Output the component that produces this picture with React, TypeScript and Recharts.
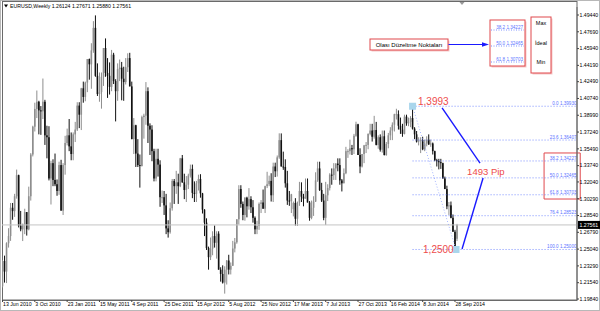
import React from 'react';
import {
  ComposedChart,
  Bar,
  XAxis,
  YAxis,
  ReferenceLine,
  ReferenceDot,
  ReferenceArea,
  Customized,
} from 'recharts';

// Weekly EURUSD candles, week 0 = 13 Jun 2010
const opens = [
  1.2115, 1.2380, 1.2270, 1.2565, 1.2640, 1.2935, 1.2900, 1.3055, 1.3275, 1.2750,
  1.2710, 1.2760, 1.2890, 1.2710, 1.3055, 1.3490, 1.3780, 1.3965, 1.4040, 1.3950,
  1.3940, 1.4040, 1.3690, 1.3670, 1.3240, 1.3400, 1.3225, 1.3180, 1.3110, 1.3380,
  1.2905, 1.3380, 1.3610, 1.3690, 1.3575, 1.3495, 1.3700, 1.3750, 1.4000, 1.3905,
  1.4180, 1.4090, 1.4240, 1.4485, 1.4430, 1.4575, 1.4810, 1.4310, 1.4120, 1.4140,
  1.4300, 1.4600, 1.4340, 1.4310, 1.4195, 1.4530, 1.4255, 1.4150, 1.4380, 1.4395,
  1.4280, 1.4245, 1.4400, 1.4495, 1.4200, 1.3650, 1.3795, 1.3500, 1.3380, 1.3370,
  1.3880, 1.3895, 1.4150, 1.3790, 1.3750, 1.3525, 1.3240, 1.3445, 1.3385, 1.3045,
  1.3045, 1.2960, 1.2720, 1.2680, 1.2930, 1.3215, 1.3160, 1.3200, 1.3160, 1.3450,
  1.3200, 1.3120, 1.3175, 1.3270, 1.3340, 1.3090, 1.3080, 1.3190, 1.3235, 1.3085,
  1.2915, 1.2780, 1.2515, 1.2420, 1.2510, 1.2640, 1.2570, 1.2665, 1.2290, 1.2245,
  1.2155, 1.2290, 1.2385, 1.2290, 1.2330, 1.2510, 1.2575, 1.2815, 1.3130, 1.2975,
  1.2860, 1.3040, 1.2950, 1.3025, 1.2940, 1.2830, 1.2710, 1.2745, 1.2975, 1.2990,
  1.2925, 1.3160, 1.3180, 1.3215, 1.3065, 1.3365, 1.3315, 1.3460, 1.3640, 1.3365,
  1.3360, 1.3190, 1.3010, 1.3005, 1.2920, 1.2985, 1.2820, 1.2990, 1.3110, 1.3050,
  1.3030, 1.3110, 1.2990, 1.2830, 1.2935, 1.3000, 1.3220, 1.3345, 1.3120, 1.3010,
  1.2830, 1.3065, 1.3140, 1.3280, 1.3275, 1.3345, 1.3395, 1.3380, 1.3220, 1.3190,
  1.3295, 1.3525, 1.3525, 1.3555, 1.3545, 1.3685, 1.3805, 1.3485, 1.3365, 1.3495,
  1.3585, 1.3590, 1.3705, 1.3740, 1.3675, 1.3745, 1.3590, 1.3670, 1.3540, 1.3680,
  1.3485, 1.3600, 1.3690, 1.3740, 1.3800, 1.3910, 1.3910, 1.3790, 1.3750, 1.3705,
  1.3885, 1.3815, 1.3830, 1.3870, 1.3760, 1.3700, 1.3625, 1.3635, 1.3640, 1.3545,
  1.3605, 1.3645, 1.3595, 1.3605, 1.3525, 1.3430, 1.3420, 1.3410, 1.3400, 1.3240,
  1.3130, 1.2950, 1.2960, 1.2830, 1.2685, 1.2612,
];
const highs = [
  1.2390, 1.2436, 1.2575, 1.2722, 1.2985, 1.2985, 1.3080, 1.3333, 1.3280, 1.2902,
  1.2770, 1.2925, 1.2890, 1.3155, 1.3505, 1.3790, 1.4030, 1.4157, 1.4050, 1.3995,
  1.4282, 1.4060, 1.3790, 1.3785, 1.3425, 1.3440, 1.3500, 1.3230, 1.3415, 1.3435,
  1.3400, 1.3685, 1.3760, 1.3860, 1.3720, 1.3720, 1.3830, 1.4035, 1.4035, 1.4185,
  1.4250, 1.4250, 1.4485, 1.4490, 1.4650, 1.4880, 1.4940, 1.4440, 1.4345, 1.4345,
  1.4600, 1.4700, 1.4495, 1.4450, 1.4580, 1.4550, 1.4275, 1.4440, 1.4480, 1.4455,
  1.4405, 1.4495, 1.4545, 1.4550, 1.4250, 1.3870, 1.3800, 1.3650, 1.3490, 1.3895,
  1.3915, 1.4245, 1.4190, 1.3815, 1.3795, 1.3550, 1.3550, 1.3550, 1.3430, 1.3115,
  1.3110, 1.3080, 1.2805, 1.2990, 1.3235, 1.3235, 1.3320, 1.3290, 1.3455, 1.3485,
  1.3290, 1.3265, 1.3290, 1.3385, 1.3385, 1.3210, 1.3215, 1.3280, 1.3285, 1.3090,
  1.2920, 1.2825, 1.2530, 1.2625, 1.2690, 1.2750, 1.2690, 1.2690, 1.2315, 1.2335,
  1.2325, 1.2390, 1.2445, 1.2365, 1.2590, 1.2620, 1.2815, 1.3170, 1.3170, 1.3000,
  1.3045, 1.3050, 1.3140, 1.3055, 1.3015, 1.2845, 1.2800, 1.2990, 1.3015, 1.3125,
  1.3165, 1.3310, 1.3270, 1.3295, 1.3405, 1.3405, 1.3480, 1.3711, 1.3710, 1.3520,
  1.3440, 1.3320, 1.3110, 1.3080, 1.3000, 1.3035, 1.3000, 1.3205, 1.3200, 1.3080,
  1.3240, 1.3240, 1.3005, 1.3010, 1.3055, 1.3305, 1.3415, 1.3415, 1.3195, 1.3080,
  1.3205, 1.3180, 1.3295, 1.3345, 1.3400, 1.3400, 1.3450, 1.3450, 1.3235, 1.3345,
  1.3570, 1.3545, 1.3645, 1.3590, 1.3705, 1.3832, 1.3810, 1.3555, 1.3495, 1.3590,
  1.3620, 1.3710, 1.3810, 1.3810, 1.3893, 1.3830, 1.3690, 1.3700, 1.3740, 1.3740,
  1.3620, 1.3715, 1.3775, 1.3825, 1.3915, 1.3967, 1.3950, 1.3875, 1.3810, 1.3905,
  1.3905, 1.3875, 1.3890, 1.3993, 1.3775, 1.3735, 1.3670, 1.3670, 1.3675, 1.3645,
  1.3680, 1.3700, 1.3645, 1.3615, 1.3530, 1.3445, 1.3445, 1.3445, 1.3405, 1.3260,
  1.3165, 1.2995, 1.3000, 1.2865, 1.2705, 1.2767,
];
const lows = [
  1.2105, 1.2155, 1.2150, 1.2520, 1.2590, 1.2810, 1.2840, 1.3030, 1.2730, 1.2690,
  1.2588, 1.2660, 1.2645, 1.2700, 1.3010, 1.3470, 1.3730, 1.3870, 1.3700, 1.3695,
  1.3860, 1.3590, 1.3450, 1.3220, 1.2969, 1.3160, 1.3160, 1.3060, 1.3070, 1.2905,
  1.2860, 1.3280, 1.3585, 1.3525, 1.3430, 1.3430, 1.3620, 1.3735, 1.3765, 1.3745,
  1.4030, 1.4045, 1.4140, 1.4270, 1.4175, 1.4550, 1.4300, 1.4100, 1.4040, 1.3968,
  1.4205, 1.4300, 1.4080, 1.4115, 1.4150, 1.4225, 1.3835, 1.4050, 1.4255, 1.4055,
  1.4050, 1.4220, 1.4350, 1.4200, 1.3650, 1.3495, 1.3360, 1.3360, 1.3145, 1.3365,
  1.3655, 1.3800, 1.3610, 1.3485, 1.3420, 1.3210, 1.3210, 1.3260, 1.2945, 1.2985,
  1.2860, 1.2660, 1.2624, 1.2665, 1.2905, 1.2975, 1.3080, 1.2975, 1.3150, 1.3195,
  1.3025, 1.2995, 1.3130, 1.3250, 1.3035, 1.2995, 1.2995, 1.3115, 1.3040, 1.2875,
  1.2640, 1.2495, 1.2290, 1.2390, 1.2440, 1.2520, 1.2405, 1.2290, 1.2165, 1.2145,
  1.2040, 1.2135, 1.2240, 1.2240, 1.2330, 1.2470, 1.2560, 1.2760, 1.2935, 1.2805,
  1.2800, 1.2835, 1.2915, 1.2880, 1.2780, 1.2660, 1.2660, 1.2705, 1.2880, 1.2925,
  1.2880, 1.3140, 1.3160, 1.3000, 1.2995, 1.3255, 1.3260, 1.3445, 1.3365, 1.3330,
  1.3145, 1.2965, 1.2955, 1.2880, 1.2845, 1.2750, 1.2745, 1.2955, 1.2995, 1.2950,
  1.3030, 1.2990, 1.2800, 1.2815, 1.2850, 1.2995, 1.3205, 1.3110, 1.2995, 1.2805,
  1.2755, 1.3005, 1.3115, 1.3175, 1.3225, 1.3225, 1.3315, 1.3175, 1.3105, 1.3190,
  1.3285, 1.3455, 1.3490, 1.3485, 1.3495, 1.3675, 1.3485, 1.3295, 1.3355, 1.3400,
  1.3505, 1.3545, 1.3690, 1.3625, 1.3655, 1.3585, 1.3550, 1.3520, 1.3510, 1.3480,
  1.3477, 1.3555, 1.3640, 1.3640, 1.3730, 1.3855, 1.3750, 1.3705, 1.3675, 1.3700,
  1.3790, 1.3785, 1.3775, 1.3750, 1.3650, 1.3615, 1.3585, 1.3505, 1.3535, 1.3525,
  1.3575, 1.3590, 1.3570, 1.3490, 1.3420, 1.3365, 1.3335, 1.3340, 1.3240, 1.3130,
  1.2920, 1.2860, 1.2825, 1.2685, 1.2500, 1.2588,
];
const closes = [
  1.2380, 1.2270, 1.2565, 1.2640, 1.2935, 1.2900, 1.3055, 1.3275, 1.2750, 1.2710,
  1.2760, 1.2890, 1.2710, 1.3055, 1.3490, 1.3780, 1.3965, 1.4040, 1.3950, 1.3940,
  1.4040, 1.3690, 1.3670, 1.3240, 1.3400, 1.3225, 1.3180, 1.3110, 1.3380, 1.2905,
  1.3380, 1.3610, 1.3690, 1.3575, 1.3495, 1.3700, 1.3750, 1.4000, 1.3905, 1.4180,
  1.4090, 1.4240, 1.4485, 1.4430, 1.4575, 1.4810, 1.4310, 1.4120, 1.4140, 1.4300,
  1.4600, 1.4340, 1.4310, 1.4195, 1.4530, 1.4255, 1.4150, 1.4380, 1.4395, 1.4280,
  1.4245, 1.4400, 1.4495, 1.4200, 1.3650, 1.3795, 1.3500, 1.3380, 1.3370, 1.3880,
  1.3895, 1.4150, 1.3790, 1.3750, 1.3525, 1.3240, 1.3445, 1.3385, 1.3045, 1.3045,
  1.2960, 1.2720, 1.2680, 1.2930, 1.3215, 1.3160, 1.3200, 1.3160, 1.3450, 1.3200,
  1.3120, 1.3175, 1.3270, 1.3340, 1.3090, 1.3080, 1.3190, 1.3235, 1.3085, 1.2915,
  1.2780, 1.2515, 1.2420, 1.2510, 1.2640, 1.2570, 1.2665, 1.2290, 1.2245, 1.2155,
  1.2290, 1.2385, 1.2290, 1.2330, 1.2510, 1.2575, 1.2815, 1.3130, 1.2975, 1.2860,
  1.3040, 1.2950, 1.3025, 1.2940, 1.2830, 1.2710, 1.2745, 1.2975, 1.2990, 1.2925,
  1.3160, 1.3180, 1.3215, 1.3065, 1.3365, 1.3315, 1.3460, 1.3640, 1.3365, 1.3360,
  1.3190, 1.3010, 1.3005, 1.3075, 1.2985, 1.2820, 1.2990, 1.3110, 1.3050, 1.3030,
  1.3110, 1.2990, 1.2830, 1.2935, 1.3000, 1.3220, 1.3345, 1.3120, 1.3010, 1.2830,
  1.3065, 1.3140, 1.3280, 1.3275, 1.3345, 1.3395, 1.3380, 1.3220, 1.3190, 1.3295,
  1.3525, 1.3525, 1.3555, 1.3545, 1.3685, 1.3805, 1.3485, 1.3365, 1.3495, 1.3585,
  1.3590, 1.3705, 1.3740, 1.3675, 1.3745, 1.3590, 1.3670, 1.3540, 1.3680, 1.3485,
  1.3600, 1.3690, 1.3740, 1.3800, 1.3910, 1.3910, 1.3790, 1.3750, 1.3705, 1.3885,
  1.3815, 1.3830, 1.3870, 1.3760, 1.3700, 1.3625, 1.3635, 1.3640, 1.3545, 1.3605,
  1.3645, 1.3595, 1.3605, 1.3525, 1.3430, 1.3420, 1.3410, 1.3400, 1.3240, 1.3130,
  1.2950, 1.2960, 1.2830, 1.2685, 1.2520, 1.2756,
];

const xTickIndex = [0, 16, 32, 48, 64, 80, 96, 112, 128, 144, 160, 176, 192, 208, 224];
const xTickLabels = [
  '13 Jun 2010', '3 Oct 2010', '23 Jan 2011', '15 May 2011', '4 Sep 2011',
  '25 Dec 2011', '15 Apr 2012', '5 Aug 2012', '25 Nov 2012', '17 Mar 2013',
  '7 Jul 2013', '27 Oct 2013', '16 Feb 2014', '8 Jun 2014', '28 Sep 2014',
];
const priceTicks = [
  1.4944, 1.4769, 1.4594, 1.4419, 1.4249, 1.4074, 1.3899, 1.3724, 1.3549,
  1.3374, 1.3204, 1.3029, 1.2854, 1.2679, 1.2504, 1.2329, 1.2154, 1.1984,
];

const fibRatios = ['0.0', '23.6', '38.2', '50.0', '61.8', '76.4', '100.0'];
const fibPrices = [1.3993, 1.36407, 1.34227, 1.32465, 1.30703, 1.28523, 1.25];
const fibHighIdx = 203;
const fibLowIdx = 224.5;
const boxedFib = [2, 3, 4];

const currentPrice = 1.27561;
const titleText = 'EURUSD,Weekly  1.26124 1.27671 1.25880 1.27561';

const pipLine1 = [{ x: 217.6, y: 1.3975 }, { x: 236.4, y: 1.3401 }];
const pipLine2 = [{ x: 227.5, y: 1.2505 }, { x: 237.9, y: 1.3245 }];
const pipLabel = { x: 230, y: 1.3318, text: '1493 Pip' };
const highLabel = { x: 205.7, y: 1.3993, text: '1,3993' };
const lowLabel = { x: 208.2, y: 1.25, text: '1,2500' };

const X_DOMAIN: [number, number] = [-0.25, 284.4];
const Y_DOMAIN: [number, number] = [1.19736, 1.50274];

const FONT = "'Liberation Sans', Arial, sans-serif";
const RED = '#ee4b4b';
const FIB_BLUE = '#5b73ff';

const data = opens.map((o, i) => ({
  i,
  range: [lows[i], highs[i]],
  o,
  h: highs[i],
  l: lows[i],
  c: closes[i],
}));

function Candle(props: any) {
  const { x, y, width, height, payload } = props;
  if (x == null || y == null || !payload) return null;
  const cx = x + width / 2;
  const top = Math.min(y, y + height);
  const h = Math.abs(height);
  const { o, c, h: hi, l: lo } = payload;
  const k = hi > lo ? h / (hi - lo) : 0;
  const yo = top + (hi - o) * k;
  const yc = top + (hi - c) * k;
  const bull = c >= o;
  const col = bull ? '#8e8e8e' : '#111';
  return (
    <g>
      <rect x={cx - 0.5} y={top} width={1} height={Math.max(h, 1)} fill={col} />
      <rect
        x={cx - 0.8}
        y={Math.min(yo, yc)}
        width={1.6}
        height={Math.max(Math.abs(yo - yc), 1)}
        fill={col}
      />
    </g>
  );
}

const XTick = (props: any) => {
  const { x, y, payload } = props;
  const idx = xTickIndex.indexOf(payload.value);
  if (idx < 0) return null;
  return (
    <text x={x + 0.5} y={y + 3.6} fontSize={5.2} fontFamily={FONT} fill="#000" textAnchor="start">
      {xTickLabels[idx]}
    </text>
  );
};

const YTick = (props: any) => {
  const { x, y, payload } = props;
  return (
    <text x={x + 0.5} y={y + 1.8} fontSize={5.2} fontFamily={FONT} fill="#000" textAnchor="start">
      {payload.value.toFixed(5)}
    </text>
  );
};

const Overlay = () => (
  <g fontFamily={FONT}>
    <rect x={0.5} y={0.5} width={599} height={310} fill="none" stroke="#b8b8b8" />
    <rect x={2.5} y={1.5} width={574.5} height={299} fill="none" stroke="#6a6a6a" />
    <path d="M4,4.5 L8,4.5 L6,7.5 Z" fill="#000" />
    <text x={10} y={8.2} fontSize={5.2} fill="#000">{titleText}</text>
    <path d="M459.5,2 L464.5,2 L462,5 Z" fill="#999" />

    {/* callout box */}
    <rect x={371.5} y={40.5} width={78} height={11} fill="#f6c9c9" />
    <rect x={370} y={39} width={78} height={11} fill="#fff" stroke="#e0484d" strokeWidth={1} />
    <text x={409} y={46.8} fontSize={6} fill="#000" textAnchor="middle">Olası Düzeltme Noktaları</text>
    <line x1={448.5} y1={44.5} x2={484} y2={44.5} stroke="#1a1aff" strokeWidth={1} />
    <path d="M482,42.3 L489,44.5 L482,46.7 Z" fill="#1a1aff" />

    <rect x={491.5} y={21.5} width={35} height={46} fill="#f6c9c9" />
    <rect x={490} y={20} width={35} height={46} fill="#fff" stroke="#e0484d" strokeWidth={1} />
    {boxedFib.map((k, j) => (
      <g key={k}>
        <text x={523} y={28.5 + j * 16} fontSize={4.6} fill={FIB_BLUE} textAnchor="end">
          {`${fibRatios[k]} ${fibPrices[k].toFixed(5)}`}
        </text>
        <line x1={491} y1={30 + j * 16} x2={524} y2={30 + j * 16} stroke={FIB_BLUE} strokeWidth={0.8} strokeDasharray="1 1.5" />
      </g>
    ))}

    <rect x={532.5} y={18.5} width={20} height={56} fill="#f6c9c9" />
    <rect x={531} y={17} width={20} height={56} fill="#fff" stroke="#e0484d" strokeWidth={1} />
    <text x={541} y={25} fontSize={5.5} fill="#000" textAnchor="middle">Max</text>
    <text x={541} y={44.5} fontSize={5.5} fill="#000" textAnchor="middle">İdeal</text>
    <text x={541} y={64} fontSize={5.5} fill="#000" textAnchor="middle">Min</text>
  </g>
);

const fibLabel = (text: string) => (p: any) => {
  const vb = p.viewBox || {};
  return (
    <text x={vb.x + vb.width - 0.5} y={vb.y - 1.2} fontSize={4.6} fontFamily={FONT} fill={FIB_BLUE} textAnchor="end">
      {text}
    </text>
  );
};

const redText = (text: string, dy: number, size: number) => (p: any) => {
  const vb = p.viewBox || {};
  const cx = vb.cx != null ? vb.cx : vb.x + (vb.width || 0) / 2;
  const cy = vb.cy != null ? vb.cy : vb.y + (vb.height || 0) / 2;
  return (
    <text x={cx} y={cy + dy} fontSize={size} fontFamily={FONT} fill={RED} textAnchor="start">
      {text}
    </text>
  );
};

const priceBox = (p: any) => {
  const vb = p.viewBox || {};
  const x0 = vb.x + vb.width + 1;
  return (
    <g>
      <rect x={x0} y={vb.y - 4} width={22} height={8} fill="#000" />
      <text x={x0 + 1.5} y={vb.y + 1.8} fontSize={5.2} fontFamily={FONT} fill="#fff">
        {currentPrice.toFixed(5)}
      </text>
    </g>
  );
};

const AnchorBox = (p: any) => (
  <rect x={p.cx - 3.5} y={p.cy - 3.5} width={7} height={7} fill="#a9d6ec" />
);

export default function App() {
  return (
    <div style={{ position: 'absolute', left: 0, top: 0, width: 600, height: 311, background: '#fff' }}>
      <ComposedChart
        width={600}
        height={311}
        data={data}
        margin={{ top: 7, right: 0, bottom: 0, left: 2 }}
      >
        <XAxis
          dataKey="i"
          type="number"
          domain={X_DOMAIN}
          allowDataOverflow
          ticks={xTickIndex}
          interval={0}
          height={11}
          tickSize={2}
          tickMargin={0}
          tick={<XTick />}
          axisLine={{ stroke: '#6a6a6a' }}
          tickLine={{ stroke: '#444' }}
        />
        <YAxis
          orientation="right"
          type="number"
          domain={Y_DOMAIN}
          allowDataOverflow
          ticks={priceTicks}
          interval={0}
          width={23}
          tickSize={2}
          tickMargin={0}
          tick={<YTick />}
          axisLine={{ stroke: '#6a6a6a' }}
          tickLine={{ stroke: '#444' }}
        />
        <ReferenceLine y={currentPrice} stroke="#c4c4c4" strokeWidth={1} label={priceBox} />
        <Bar dataKey="range" barSize={2} shape={<Candle />} isAnimationActive={false} />

        {fibPrices.map((p, k) => (
          <ReferenceLine
            key={k}
            segment={[{ x: fibHighIdx, y: p }, { x: X_DOMAIN[1], y: p }]}
            stroke={FIB_BLUE}
            strokeWidth={0.8}
            strokeDasharray="1 2"
            label={fibLabel(`${fibRatios[k]} ${p.toFixed(5)}`)}
          />
        ))}
        <ReferenceLine
          segment={[{ x: fibHighIdx, y: fibPrices[0] }, { x: fibLowIdx, y: fibPrices[6] }]}
          stroke="#8ea2ff"
          strokeWidth={0.8}
          strokeDasharray="1 2"
        />
        <ReferenceLine segment={pipLine1} stroke="#1a1aff" strokeWidth={1.4} />
        <ReferenceLine segment={pipLine2} stroke="#1a1aff" strokeWidth={1.4} />

        <ReferenceArea
          x1={268.1}
          x2={286}
          y1={1.3026}
          y2={1.3506}
          ifOverflow="visible"
          fill="none"
          stroke="#e0484d"
          strokeWidth={1}
        />

        <ReferenceDot x={fibHighIdx} y={fibPrices[0]} r={3} shape={AnchorBox} ifOverflow="visible" />
        <ReferenceDot x={fibLowIdx} y={fibPrices[6]} r={3} shape={AnchorBox} ifOverflow="visible" />
        <ReferenceDot x={highLabel.x} y={highLabel.y} r={0} fill="none" stroke="none" ifOverflow="visible" label={redText(highLabel.text, -1, 10)} />
        <ReferenceDot x={lowLabel.x} y={lowLabel.y} r={0} fill="none" stroke="none" ifOverflow="visible" label={redText(lowLabel.text, 3.6, 10)} />
        <ReferenceDot x={pipLabel.x} y={pipLabel.y} r={0} fill="none" stroke="none" ifOverflow="visible" label={redText(pipLabel.text, 3.6, 9.5)} />

        <Customized component={Overlay} />
      </ComposedChart>
    </div>
  );
}
